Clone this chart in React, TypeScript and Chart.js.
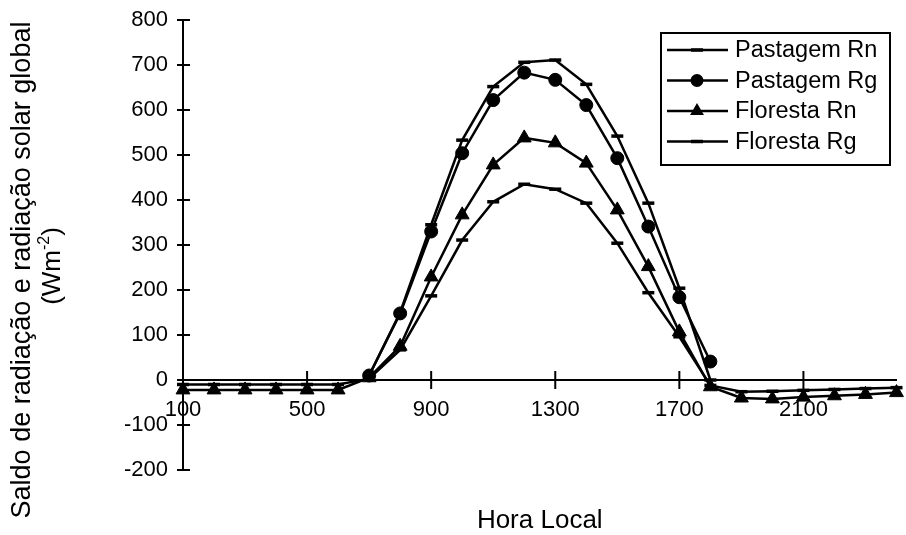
import React, { useEffect, useRef } from 'react';
import { Chart, registerables } from 'chart.js';

Chart.register(...registerables);

// ---- data ----
const HOURS = [100, 200, 300, 400, 500, 600, 700, 800, 900, 1000, 1100, 1200, 1300, 1400, 1500, 1600, 1700, 1800, 1900, 2000, 2100, 2200, 2300, 2400];
const X_TICKS = [100, 500, 900, 1300, 1700, 2100];
const Y_MIN = -200;
const Y_MAX = 800;
const Y_STEP = 100;

const PASTAGEM_RN = [-10, -10, -10, -10, -10, -10, 3, 67, 187, 311, 396, 435, 424, 393, 304, 194, 96, -12, -26, -25, -23, -21, -19, -17];
const PASTAGEM_RG = [null, null, null, null, null, null, 10, 148, 330, 504, 622, 683, 667, 611, 493, 341, 184, 41, null, null, null, null, null, null];
const FLORESTA_RN = [-22, -22, -22, -22, -22, -22, 5, 75, 229, 367, 478, 538, 527, 482, 378, 252, 107, -15, -40, -42, -38, -35, -32, -28];
const FLORESTA_RG = [null, null, null, null, null, null, 10, 150, 345, 533, 652, 706, 711, 657, 542, 393, 204, 0, null, null, null, null, null, null];

const SERIES_NAMES = ['Pastagem Rn', 'Pastagem Rg', 'Floresta Rn', 'Floresta Rg'];
const SERIES_VALUES = [PASTAGEM_RN, PASTAGEM_RG, FLORESTA_RN, FLORESTA_RG];
const SERIES_MARKERS = ['line', 'circle', 'triangle', 'line'];

const X_TITLE = 'Hora Local';
const Y_TITLE = 'Saldo de radiação e radiação solar global';
const Y_UNIT_MAIN = '(Wm';
const Y_UNIT_SUP = '-2';
const Y_UNIT_END = ')';

const FONT = '"Liberation Sans", Arial, Helvetica, sans-serif';
const INK = '#000';

function drawMarker(ctx: CanvasRenderingContext2D, style: string, x: number, y: number) {
  ctx.save();
  ctx.fillStyle = INK;
  ctx.strokeStyle = INK;
  if (style === 'circle') {
    ctx.beginPath();
    ctx.arc(x, y, 6.5, 0, Math.PI * 2);
    ctx.fill();
  } else if (style === 'triangle') {
    const r = 8;
    ctx.beginPath();
    ctx.moveTo(x, y - r);
    ctx.lineTo(x + r * Math.cos(Math.PI / 6), y + r * 0.5);
    ctx.lineTo(x - r * Math.cos(Math.PI / 6), y + r * 0.5);
    ctx.closePath();
    ctx.fill();
  } else {
    ctx.lineWidth = 3.5;
    ctx.beginPath();
    ctx.moveTo(x - 6, y);
    ctx.lineTo(x + 6, y);
    ctx.stroke();
  }
  ctx.restore();
}

const decorPlugin = {
  id: 'decor',
  afterDraw(chart: any) {
    const { ctx, chartArea, scales } = chart;
    const xs = scales.x;
    const ys = scales.y;
    ctx.save();
    ctx.strokeStyle = INK;
    ctx.lineWidth = 2;
    // crossing tick marks on x axis
    const y0 = ys.getPixelForValue(0);
    X_TICKS.forEach((v) => {
      const px = xs.getPixelForValue(v);
      ctx.beginPath();
      ctx.moveTo(px, y0 - 9);
      ctx.lineTo(px, y0 + 9);
      ctx.stroke();
    });
    // crossing tick marks on y axis
    for (let v = Y_MIN; v <= Y_MAX; v += Y_STEP) {
      const py = ys.getPixelForValue(v);
      ctx.beginPath();
      ctx.moveTo(chartArea.left - 6, py);
      ctx.lineTo(chartArea.left + 7, py);
      ctx.stroke();
    }

    // x title
    ctx.fillStyle = INK;
    ctx.font = `26px ${FONT}`;
    ctx.textAlign = 'center';
    ctx.textBaseline = 'middle';
    ctx.fillText(X_TITLE, (chartArea.left + chartArea.right) / 2, 521);

    // y title (rotated)
    ctx.save();
    ctx.translate(23, 270);
    ctx.rotate(-Math.PI / 2);
    ctx.font = `27px ${FONT}`;
    ctx.textAlign = 'center';
    ctx.textBaseline = 'middle';
    ctx.fillText(Y_TITLE, 0, 0);
    ctx.restore();

    ctx.save();
    ctx.translate(53, 266);
    ctx.rotate(-Math.PI / 2);
    ctx.font = `26px ${FONT}`;
    ctx.textBaseline = 'middle';
    const wMain = ctx.measureText(Y_UNIT_MAIN).width;
    ctx.font = `16px ${FONT}`;
    const wSup = ctx.measureText(Y_UNIT_SUP).width;
    ctx.font = `26px ${FONT}`;
    const wEnd = ctx.measureText(Y_UNIT_END).width;
    const total = wMain + wSup + wEnd;
    let cx = -total / 2;
    ctx.textAlign = 'left';
    ctx.fillText(Y_UNIT_MAIN, cx, 0);
    cx += wMain;
    ctx.font = `16px ${FONT}`;
    ctx.fillText(Y_UNIT_SUP, cx, -8);
    cx += wSup;
    ctx.font = `26px ${FONT}`;
    ctx.fillText(Y_UNIT_END, cx, 0);
    ctx.restore();

    // legend box
    const boxL = 661;
    const boxT = 33;
    const boxR = 890;
    const boxB = 165;
    ctx.fillStyle = '#fff';
    ctx.fillRect(boxL, boxT, boxR - boxL, boxB - boxT);
    ctx.lineWidth = 2;
    ctx.strokeStyle = INK;
    ctx.strokeRect(boxL, boxT, boxR - boxL, boxB - boxT);
    const rowH = 30.5;
    SERIES_NAMES.forEach((name, i) => {
      const ry = boxT + 17 + i * rowH;
      ctx.lineWidth = 2.5;
      ctx.beginPath();
      ctx.moveTo(667, ry);
      ctx.lineTo(728, ry);
      ctx.stroke();
      drawMarker(ctx, SERIES_MARKERS[i], 697, ry);
      ctx.fillStyle = INK;
      ctx.font = `23.5px ${FONT}`;
      ctx.textAlign = 'left';
      ctx.textBaseline = 'middle';
      ctx.fillText(name, 735, ry + 1);
    });
    ctx.restore();
  },
};

export default function App() {
  const canvasRef = useRef<HTMLCanvasElement | null>(null);

  useEffect(() => {
    if (!canvasRef.current) return;
    const datasets = SERIES_NAMES.map((name, i) => ({
      label: name,
      data: HOURS.map((h, j) => ({ x: h, y: SERIES_VALUES[i][j] })),
      borderColor: INK,
      backgroundColor: INK,
      borderWidth: 2.5,
      pointStyle: SERIES_MARKERS[i] as any,
      pointRadius: SERIES_MARKERS[i] === 'triangle' ? 8 : SERIES_MARKERS[i] === 'circle' ? 6.5 : 6,
      pointBorderWidth: SERIES_MARKERS[i] === 'line' ? 3.5 : 1,
      pointBackgroundColor: INK,
      pointBorderColor: INK,
      spanGaps: false,
      tension: 0,
      clip: false as any,
    }));

    const chart = new Chart(canvasRef.current, {
      type: 'line',
      data: { datasets },
      options: {
        animation: false,
        responsive: false,
        maintainAspectRatio: false,
        events: [],
        layout: { padding: { left: 0, top: 20, right: 6, bottom: 65 } },
        plugins: {
          legend: { display: false },
          tooltip: { enabled: false },
          title: { display: false },
        },
        scales: {
          x: {
            type: 'linear',
            min: 100,
            max: 2400,
            position: { y: 0 } as any,
            afterBuildTicks: (axis: any) => {
              axis.ticks = X_TICKS.map((v) => ({ value: v }));
            },
            afterFit: (scale: any) => {
              scale.paddingLeft = 0;
              scale.paddingRight = 0;
            },
            grid: { display: false, drawTicks: false },
            border: { display: true, color: INK, width: 2 },
            ticks: {
              color: INK,
              padding: 17,
              maxRotation: 0,
              autoSkip: false,
              font: { family: FONT, size: 22 },
              callback: (v: any) => String(v),
            },
          },
          y: {
            type: 'linear',
            min: Y_MIN,
            max: Y_MAX,
            afterFit: (scale: any) => {
              scale.width = 183;
              scale.paddingTop = 0;
              scale.paddingBottom = 0;
            },
            grid: { display: false, drawTicks: false },
            border: { display: true, color: INK, width: 2 },
            ticks: {
              stepSize: Y_STEP,
              color: INK,
              padding: 15,
              font: { family: FONT, size: 22 },
            },
          },
        },
      },
      plugins: [decorPlugin],
    });
    return () => chart.destroy();
  }, []);

  return (
    <div style={{ position: 'fixed', left: 0, top: 0, width: 906, height: 535, background: '#fff' }}>
      <canvas ref={canvasRef} width={906} height={535} style={{ display: 'block' }} />
    </div>
  );
}
